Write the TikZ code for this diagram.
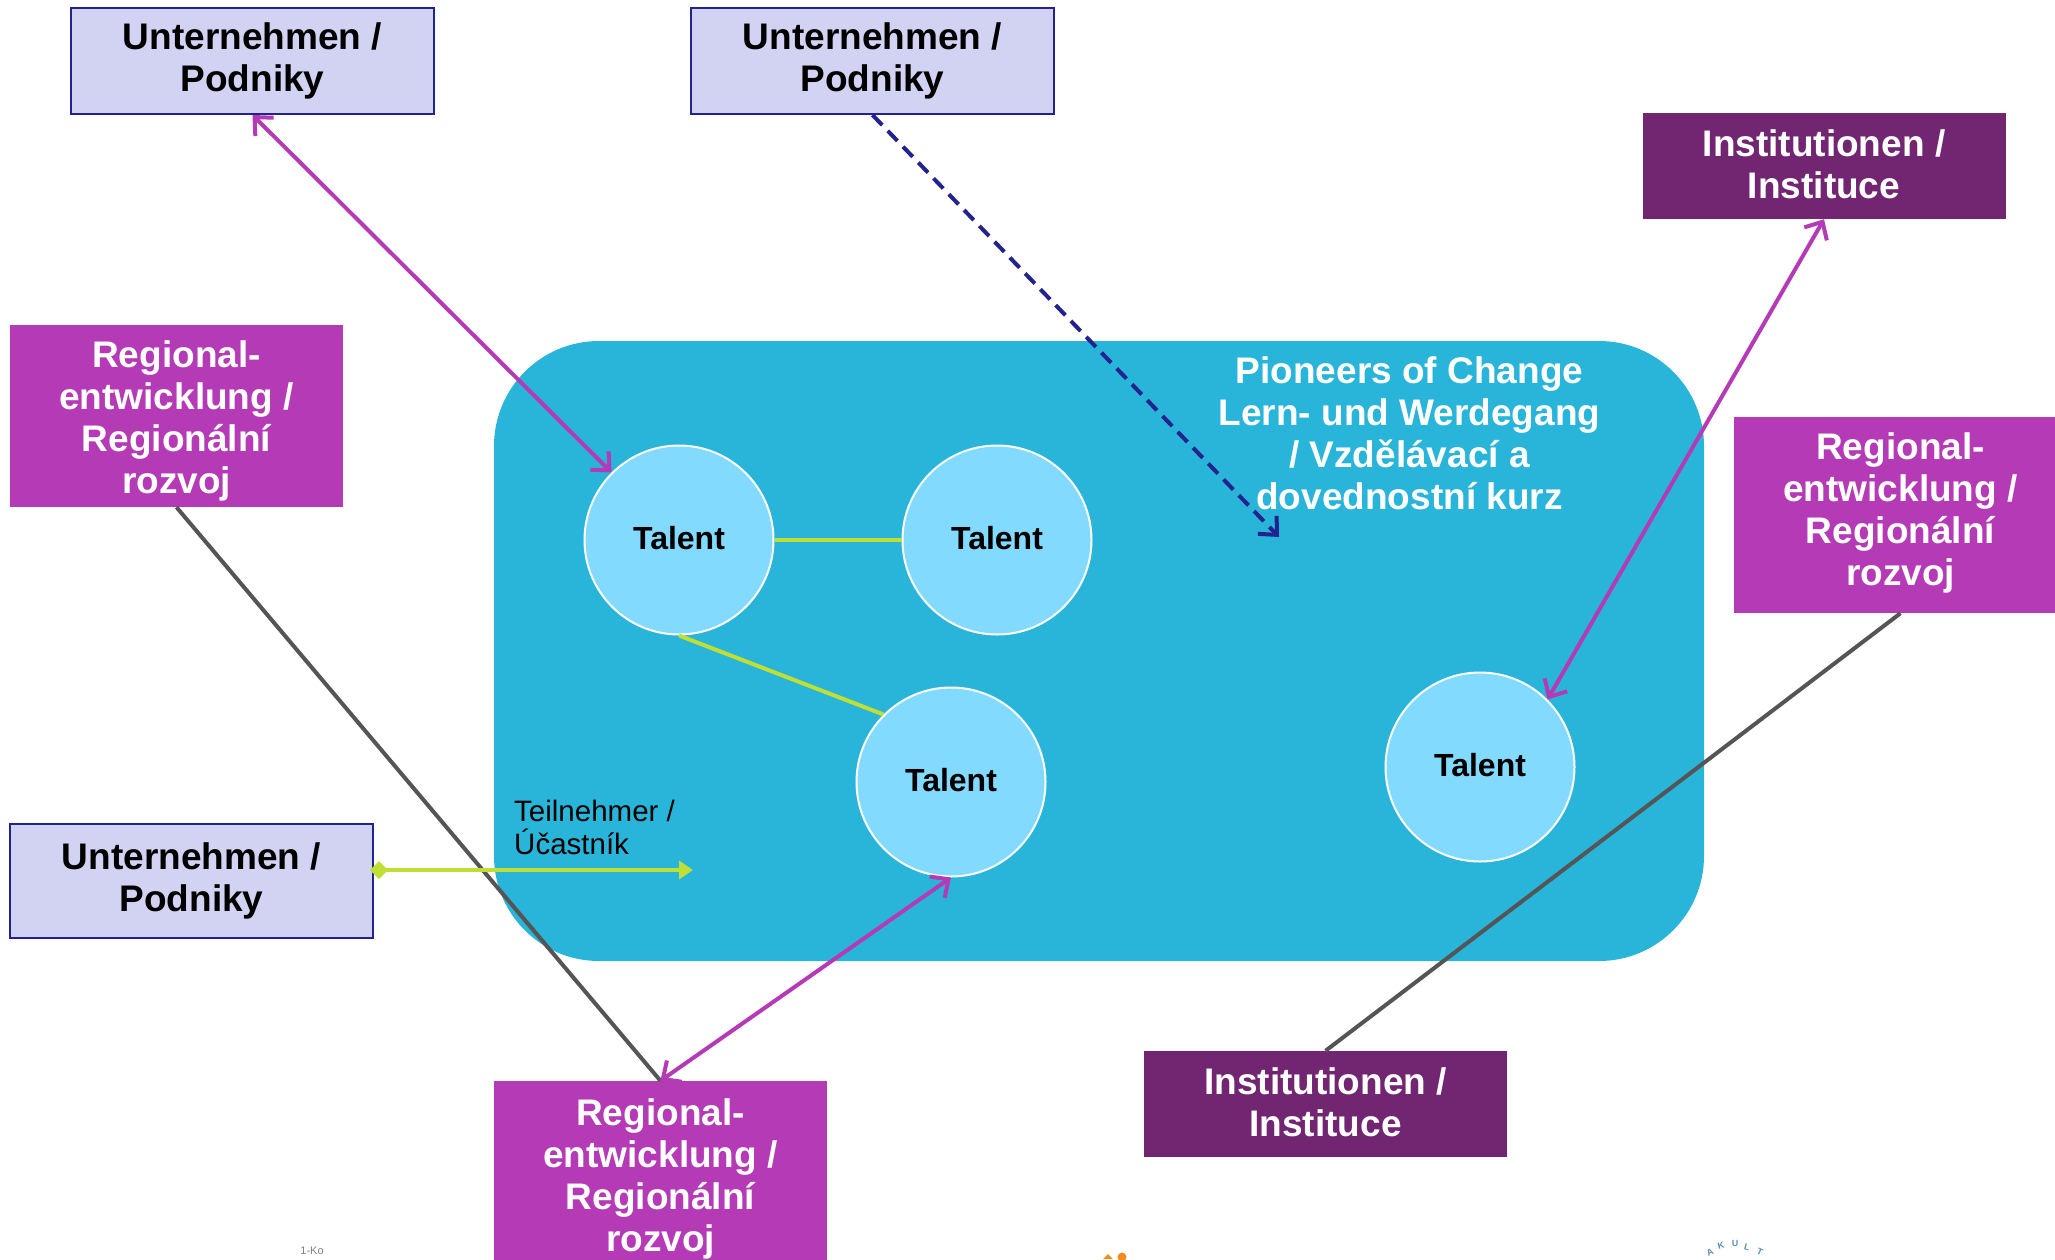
\documentclass[tikz,border=0pt]{standalone}
\usepackage{xcolor}
\usepackage{fontspec}
\setmainfont{Liberation Sans}
\usetikzlibrary{arrows.meta, positioning}

\definecolor{stageblue}{HTML}{29B4D9}
\definecolor{talentblue}{HTML}{83DAFF}
\definecolor{firmfill}{HTML}{D2D2F3}
\definecolor{firmdraw}{HTML}{23238E}
\definecolor{regionpurple}{HTML}{B53AB6}
\definecolor{instpurple}{HTML}{722672}
\definecolor{limeline}{HTML}{BFDF35}
\definecolor{greyline}{HTML}{555555}
\definecolor{logoorange}{HTML}{F28C1E}
\definecolor{logoblue}{HTML}{5B8DB8}

\begin{document}
\begin{tikzpicture}[
    x=1pt, y=-1pt,
    firm/.style={rectangle, draw=firmdraw, fill=firmfill, line width=2pt, minimum width=363pt, minimum height=106pt, inner sep=0pt, align=center, font=\fontsize{37}{42}\selectfont\bfseries},
    region/.style={rectangle, fill=regionpurple, text=white, minimum width=333pt, minimum height=196pt, inner sep=0pt, align=center, font=\fontsize{37}{42}\selectfont\bfseries},
    inst/.style={rectangle, fill=instpurple, text=white, minimum width=363pt, minimum height=106pt, inner sep=0pt, align=center, font=\fontsize{37}{42}\selectfont\bfseries},
    talent/.style={circle, draw=white, fill=talentblue, line width=2pt, minimum size=189pt, inner sep=0pt, font=\fontsize{32}{36}\selectfont\bfseries},
    stage/.style={rectangle, rounded corners=105pt, fill=stageblue, minimum width=1210pt, minimum height=620pt, inner sep=0pt},
    both/.style={{Straight Barb[length=14pt,width=26pt]}-{Straight Barb[length=14pt,width=26pt]}, line width=4pt, regionpurple},
    plain/.style={line width=4pt, greyline},
    link/.style={line width=4pt, limeline}
]
\useasboundingbox (0,0) rectangle (2055,1259);

% Background
\node[stage] (stage) at (1099,651) {};
\node[align=center, text=white, font=\fontsize{37}{42}\selectfont\bfseries] (title) at (1409.5,433) {Pioneers of Change\\Lern- und Werdegang\\/ Vzdělávací a\\dovednostní kurz};

% Talents
\node[talent, text depth=4pt] (talenta) at (679,540) {Talent};
\node[talent, text depth=4pt] (talentb) at (997,540) {Talent};
\node[talent, text depth=4pt] (talentc) at (951,782) {Talent};
\node[talent, text depth=4pt] (talentd) at (1480,767) {Talent};

% Boxes
\node[firm] (firma) at (252.5,61) {Unternehmen /\\Podniky};
\node[firm] (firmb) at (872.5,61) {Unternehmen /\\Podniky};
\node[firm, minimum height=114pt] (firmc) at (191.5,881) {Unternehmen /\\Podniky};
\node[inst, text depth=3pt] (insta) at (1824,166) {Institutionen /\\Instituce};
\node[inst, text depth=3pt] (instb) at (1325.5,1104) {Institutionen /\\Instituce};
\node[region, minimum height=182pt] (regiona) at (176.5,416) {\rule{0pt}{37pt}Regional-\\entwicklung /\\Regionální\\rozvoj};
\node[region, text depth=11pt] (regionb) at (1900.5,515) {Regional-\\entwicklung /\\Regionální\\rozvoj};
\node[region] (regionc) at (660.5,1179) {Regional-\\entwicklung /\\Regionální\\rozvoj};

% Participant
\coordinate (kursend) at (1279,537);
\coordinate (teilend) at (693,870);
\node[anchor=south west, inner sep=0pt, align=left, font=\fontsize{29.5}{33}\selectfont] (teil) at (514,855) {Teilnehmer /\\Účastník};

% Arrows
\draw[plain] (regiona.south) -- (regionc.north);
\draw[plain] (regionb.south) -- (instb.north);
\draw[link] (talenta.east) -- (talentb.west);
\draw[link] (talenta.south) -- (talentc.135);
\draw[link, {Diamond[length=18pt,width=18pt]}-{Triangle[length=14pt,width=18pt]}, shorten <=-4pt] (firmc.east |- teilend) -- (teilend);
\draw[both] (firma.south) -- (talenta.135);
\draw[both] (insta.south) -- (talentd.45);
\draw[both] (regionc.north) -- (talentc.south);
\draw[-{Straight Barb[length=14pt,width=26pt]}, dash pattern=on 14pt off 8pt, line width=4pt, firmdraw] (firmb.south) -- (kursend);

% Logo remains at the lower edge
\node[text=gray, inner sep=0pt, font=\fontsize{11}{11}\selectfont] (logoa) at (312,1251) {1-Ko};
\fill[logoorange] (1122,1257) circle (4.5pt);
\fill[logoorange] (1103,1259) -- (1108,1254) -- (1113,1259) -- cycle;
\foreach \ch/\px/\py/\rot [count=\i] in {A/1710/1252/25, K/1721/1246/15, U/1735/1243/0, L/1747/1247/-15, T/1760/1252/-25}
    \node[text=logoblue, inner sep=0pt, rotate=\rot, font=\fontsize{9}{9}\selectfont\bfseries] (ring\i) at (\px,\py) {\ch};

\end{tikzpicture}
\end{document}
